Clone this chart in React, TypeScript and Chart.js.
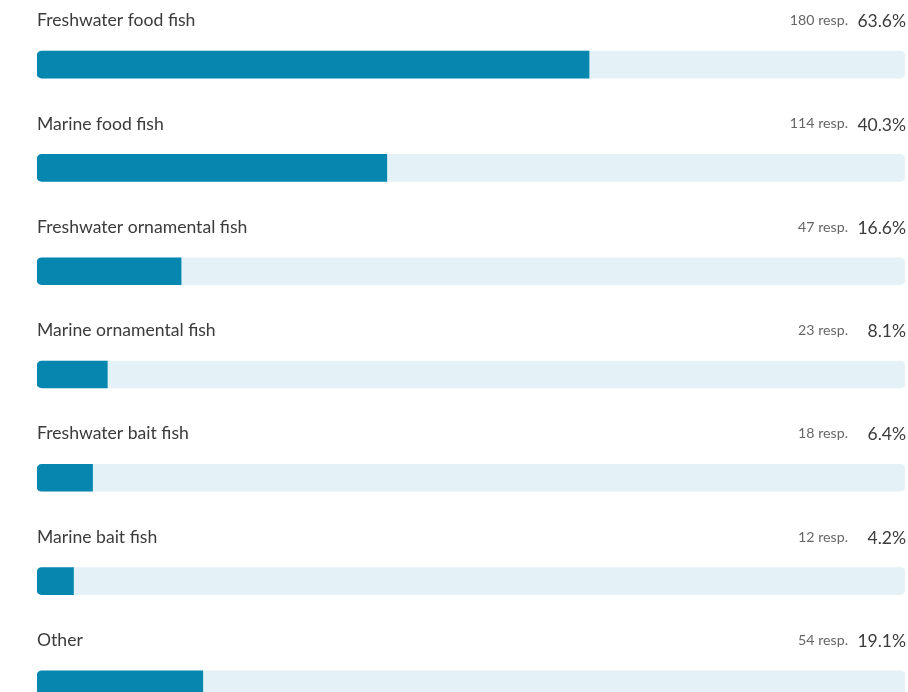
import React, { useEffect, useRef } from "react";
import { Chart, registerables } from "chart.js";

Chart.register(...registerables);

const categories = [
  "Freshwater food fish",
  "Marine food fish",
  "Freshwater ornamental fish",
  "Marine ornamental fish",
  "Freshwater bait fish",
  "Marine bait fish",
  "Other",
];
const responses = [180, 114, 47, 23, 18, 12, 54];
const percentages = [63.6, 40.3, 16.6, 8.1, 6.4, 4.2, 19.1];
const track = categories.map(() => 100);

const BAR = "#0787b0";
const TRACK = "#e4f1f6";
const FONT = "Lato, 'Source Sans Pro', sans-serif";

const labelsPlugin = {
  id: "rowLabels",
  afterDatasetsDraw(chart: any) {
    const { ctx, chartArea } = chart;
    const meta = chart.getDatasetMeta(0);
    ctx.save();
    meta.data.forEach((bar: any, i: number) => {
      const y = bar.y - 44;
      ctx.textBaseline = "middle";
      ctx.fillStyle = "#3b3b3b";
      ctx.font = `17.6px ${FONT}`;
      ctx.textAlign = "left";
      ctx.fillText(categories[i], chartArea.left, y);
      ctx.textAlign = "right";
      ctx.font = `17.5px ${FONT}`;
      ctx.fillText(`${percentages[i].toFixed(1)}%`, chartArea.right + 1, y + 1);
      ctx.font = `14.2px ${FONT}`;
      ctx.fillStyle = "#666666";
      ctx.fillText(`${responses[i]} resp.`, chartArea.right - 57, y);
    });
    ctx.restore();
  },
};

export default function App() {
  const ref = useRef<HTMLCanvasElement | null>(null);
  useEffect(() => {
    if (!ref.current) return;
    const chart = new Chart(ref.current, {
      type: "bar",
      data: {
        labels: categories,
        datasets: [
          {
            data: percentages,
            backgroundColor: BAR,
            barThickness: 27,
            grouped: false,
            order: 0,
            borderSkipped: false,
            borderRadius: { topLeft: 5, bottomLeft: 5, topRight: 0, bottomRight: 0 },
          } as any,
          {
            data: track,
            backgroundColor: TRACK,
            barThickness: 27,
            grouped: false,
            order: 1,
            borderSkipped: false,
            borderRadius: 5,
          } as any,
        ],
      },
      options: {
        indexAxis: "y",
        animation: false,
        responsive: false,
        maintainAspectRatio: false,
        layout: { padding: { left: 37, right: 3, top: 13, bottom: 0 } },
        plugins: { legend: { display: false }, tooltip: { enabled: false } },
        scales: {
          x: { min: 0, max: 100, display: false },
          y: { display: false },
        },
      },
      plugins: [labelsPlugin],
    });
    return () => chart.destroy();
  }, []);
  return (
    <div
      style={{
        position: "fixed",
        left: 0,
        top: 0,
        width: 908,
        height: 692,
        overflow: "hidden",
        background: "#ffffff",
      }}
    >
      <canvas ref={ref} width={908} height={736} style={{ display: "block" }} />
    </div>
  );
}
